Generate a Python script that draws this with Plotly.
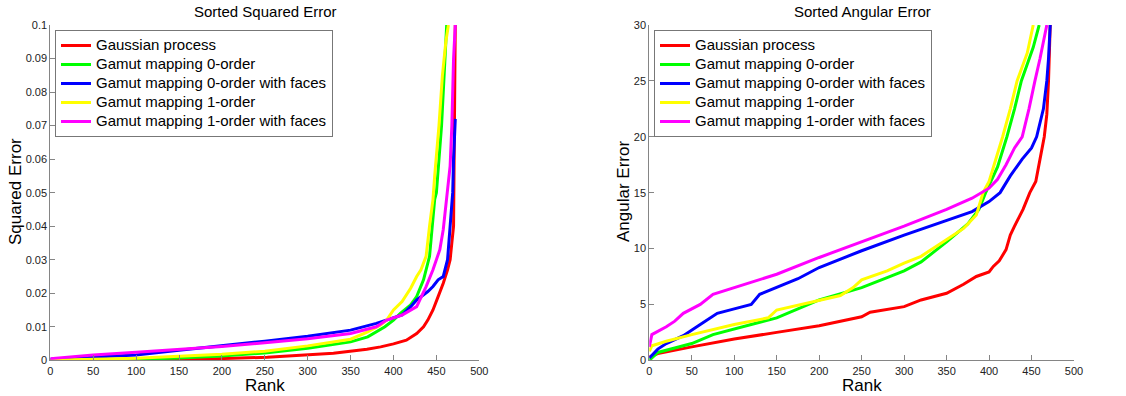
import plotly.graph_objects as go

series_names = ["Gaussian process", "Gamut mapping 0-order", "Gamut mapping 0-order with faces",
                "Gamut mapping 1-order", "Gamut mapping 1-order with faces"]
series_colors = ["#ff0000", "#00ff00", "#0000ff", "#ffff00", "#ff00ff"]

# ---- Left panel: sorted squared error (rank, value) ----
sq_gp_rank = [0, 100, 175, 253, 292, 330, 369, 385, 400, 415, 427, 435, 440, 446, 452, 458, 463, 466, 468, 470, 471, 472]
sq_gp_val = [0, 0.0001, 0.0003, 0.0009, 0.0014, 0.0021, 0.0033, 0.0040, 0.0049, 0.0060, 0.0080, 0.0100, 0.0120, 0.0150, 0.0190, 0.0230, 0.0270, 0.0300, 0.0350, 0.0400, 0.0700, 0.1000]

sq_g0_rank = [0, 50, 100, 150, 200, 250, 300, 350, 370, 390, 400, 408, 420, 427, 435, 442, 448, 450, 456, 460, 462]
sq_g0_val = [0, 0.0001, 0.0003, 0.0007, 0.0013, 0.0022, 0.0036, 0.0055, 0.0070, 0.0100, 0.0120, 0.0140, 0.0165, 0.0190, 0.0240, 0.0310, 0.0480, 0.0500, 0.0700, 0.0900, 0.1000]

sq_g0f_rank = [0, 50, 100, 150, 200, 250, 300, 350, 380, 392, 410, 420, 427, 440, 446, 452, 458, 463, 466, 469, 470, 472]
sq_g0f_val = [0.0003, 0.0010, 0.0016, 0.0030, 0.0043, 0.0057, 0.0072, 0.0090, 0.0110, 0.0120, 0.0135, 0.0160, 0.0180, 0.0205, 0.0220, 0.0240, 0.0250, 0.0300, 0.0400, 0.0500, 0.0600, 0.0720]

sq_g1_rank = [0, 50, 100, 150, 200, 250, 300, 350, 370, 385, 392, 400, 410, 420, 427, 432, 438, 442, 446, 448, 453, 457, 461, 464]
sq_g1_val = [0, 0.0002, 0.0006, 0.0012, 0.0018, 0.0027, 0.0043, 0.0063, 0.0085, 0.0105, 0.0120, 0.0150, 0.0175, 0.0215, 0.0250, 0.0270, 0.0310, 0.0400, 0.0480, 0.0550, 0.0700, 0.0850, 0.0950, 0.1000]

sq_g1f_rank = [0, 50, 100, 150, 200, 250, 300, 350, 380, 392, 410, 427, 438, 446, 454, 458, 462, 466, 468, 470, 472]
sq_g1f_val = [0.0005, 0.0016, 0.0024, 0.0032, 0.0041, 0.0052, 0.0064, 0.0080, 0.0100, 0.0120, 0.0135, 0.0160, 0.0220, 0.0270, 0.0330, 0.0390, 0.0480, 0.0580, 0.0700, 0.0900, 0.1000]

# ---- Right panel: sorted angular error ----
an_gp_rank = [0, 10, 50, 100, 150, 200, 250, 260, 300, 320, 350, 370, 385, 400, 405, 412, 420, 425, 430, 440, 448, 455, 460, 465, 468, 470, 472]
an_gp_val = [0.3, 0.6, 1.2, 1.9, 2.5, 3.1, 3.9, 4.3, 4.8, 5.4, 6.0, 6.8, 7.5, 7.9, 8.4, 8.9, 9.9, 11.2, 12.0, 13.5, 15.0, 16.0, 18.0, 20.0, 22.0, 25.0, 30.0]

an_g0_rank = [0, 10, 30, 50, 75, 100, 150, 200, 250, 280, 300, 320, 350, 375, 388, 396, 410, 421, 430, 438, 445, 452, 459]
an_g0_val = [0, 0.7, 1.1, 1.5, 2.3, 2.8, 3.8, 5.4, 6.5, 7.4, 8.0, 8.8, 10.6, 12.2, 13.5, 15.0, 17.3, 20.0, 22.5, 25.0, 26.5, 28.0, 30.0]

an_g0f_rank = [0, 10, 20, 40, 60, 80, 100, 120, 130, 150, 175, 200, 250, 300, 350, 380, 400, 413, 425, 439, 450, 456, 464, 468, 470, 472]
an_g0f_val = [0.2, 1.0, 1.5, 2.2, 3.2, 4.2, 4.6, 5.0, 5.9, 6.5, 7.3, 8.3, 9.8, 11.2, 12.5, 13.3, 14.2, 15.0, 16.5, 18.0, 19.0, 20.0, 22.5, 25.0, 27.0, 30.0]

an_g1_rank = [0, 3, 20, 50, 100, 140, 150, 200, 225, 240, 250, 280, 300, 320, 350, 370, 385, 393, 400, 416, 425, 433, 445, 452]
an_g1_val = [0.8, 1.3, 1.7, 2.3, 3.2, 3.8, 4.5, 5.4, 5.8, 6.5, 7.2, 8.0, 8.7, 9.3, 10.8, 11.8, 13.0, 15.0, 16.0, 20.0, 22.5, 25.0, 27.5, 30.0]

an_g1f_rank = [0, 3, 20, 30, 40, 60, 75, 100, 150, 200, 250, 300, 350, 380, 400, 410, 420, 430, 439, 447, 454, 460, 468]
an_g1f_val = [1.2, 2.3, 3.0, 3.5, 4.2, 5.0, 5.9, 6.5, 7.7, 9.2, 10.6, 12.0, 13.5, 14.5, 15.4, 16.2, 17.5, 19.0, 20.0, 22.5, 25.0, 27.0, 30.0]

x_ticks = [0, 50, 100, 150, 200, 250, 300, 350, 400, 450, 500]
sq_ticks = [0, 0.01, 0.02, 0.03, 0.04, 0.05, 0.06, 0.07, 0.08, 0.09, 0.1]
sq_tick_text = ["0", "0.01", "0.02", "0.03", "0.04", "0.05", "0.06", "0.07", "0.08", "0.09", "0.1"]
an_ticks = [0, 5, 10, 15, 20, 25, 30]

W, H = 1126, 396
FONT = "Arial, Liberation Sans, sans-serif"

left_data = [(sq_gp_rank, sq_gp_val), (sq_g0_rank, sq_g0_val), (sq_g0f_rank, sq_g0f_val),
             (sq_g1_rank, sq_g1_val), (sq_g1f_rank, sq_g1f_val)]
right_data = [(an_gp_rank, an_gp_val), (an_g0_rank, an_g0_val), (an_g0f_rank, an_g0f_val),
              (an_g1_rank, an_g1_val), (an_g1f_rank, an_g1f_val)]


def legend_label(name):
    return '<span style="font-size:15px">' + name + '</span>'


fig = go.Figure()
for (xr, yv), name, col in zip(left_data, series_names, series_colors):
    fig.add_trace(go.Scatter(x=xr, y=yv, mode="lines", name=legend_label(name), line=dict(color=col, width=3),
                             xaxis="x", yaxis="y", legend="legend"))
for (xr, yv), name, col in zip(right_data, series_names, series_colors):
    fig.add_trace(go.Scatter(x=xr, y=yv, mode="lines", name=legend_label(name), line=dict(color=col, width=3),
                             xaxis="x2", yaxis="y2", legend="legend2"))


def px_x(p):
    return p / W


def px_y(p):
    return 1 - p / H


axis_common = dict(showgrid=False, zeroline=False, showline=True, linecolor="#858585", linewidth=1,
                   ticks="inside", ticklen=5, tickcolor="#858585", mirror=False, automargin=False,
                   tickfont=dict(family=FONT, size=11, color="#222222"))

legend_common = dict(xanchor="left", yanchor="top", bgcolor="white",
                     bordercolor="#777777", borderwidth=1,
                     font=dict(family=FONT, size=12, color="black"), tracegroupgap=0)

y_dom = [px_y(360.3), px_y(25)]
fig.update_layout(
    width=W, height=H, margin=dict(l=0, r=0, t=0, b=0, pad=0, autoexpand=False),
    paper_bgcolor="white", plot_bgcolor="white",
    xaxis=dict(domain=[px_x(50.3), px_x(479.3)], range=[0, 500], tickvals=x_ticks, anchor="y", **axis_common),
    yaxis=dict(domain=y_dom, range=[0, 0.1], tickvals=sq_ticks, ticktext=sq_tick_text, anchor="x", **axis_common),
    xaxis2=dict(domain=[px_x(649.3), px_x(1074)], range=[0, 500], tickvals=x_ticks, anchor="y2", **axis_common),
    yaxis2=dict(domain=y_dom, range=[0, 30], tickvals=an_ticks, anchor="x2", **axis_common),
    legend=dict(x=px_x(55), y=px_y(30), **legend_common),
    legend2=dict(x=px_x(654), y=px_y(30), **legend_common),
    showlegend=True,
)

ann_font_title = dict(family=FONT, size=15, color="black")
ann_font_label = dict(family=FONT, size=17, color="black")
annotations = [
    dict(text="Sorted Squared Error", x=px_x(265), y=px_y(12), xref="paper", yref="paper",
         showarrow=False, font=ann_font_title, xanchor="center", yanchor="middle"),
    dict(text="Sorted Angular Error", x=px_x(862), y=px_y(12), xref="paper", yref="paper",
         showarrow=False, font=ann_font_title, xanchor="center", yanchor="middle"),
    dict(text="Rank", x=px_x(265), y=px_y(385), xref="paper", yref="paper",
         showarrow=False, font=ann_font_label, xanchor="center", yanchor="middle"),
    dict(text="Rank", x=px_x(862), y=px_y(385), xref="paper", yref="paper",
         showarrow=False, font=ann_font_label, xanchor="center", yanchor="middle"),
    dict(text="Squared Error", x=px_x(15), y=px_y(192), xref="paper", yref="paper", textangle=-90,
         showarrow=False, font=dict(family=FONT, size=17, color="black"), xanchor="center", yanchor="middle"),
    dict(text="Angular Error", x=px_x(623), y=px_y(192), xref="paper", yref="paper", textangle=-90,
         showarrow=False, font=dict(family=FONT, size=17, color="black"), xanchor="center", yanchor="middle"),
]
fig.update_layout(annotations=annotations)

fig.write_html("out.html", config={"displayModeBar": False},
               post_script="document.body.style.margin='0';document.body.style.overflow='hidden';")
